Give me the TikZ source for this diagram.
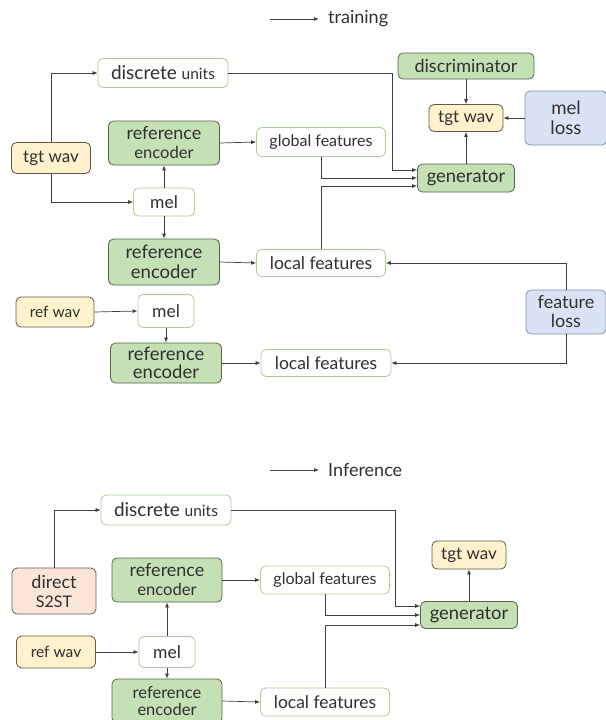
\documentclass[tikz,border=0pt]{standalone}
\usepackage{fontspec}
\setmainfont{Lato}
\usetikzlibrary{arrows.meta}
\definecolor{gfill}{HTML}{C5E0B4}
\definecolor{gline}{HTML}{55654F}
\definecolor{wline}{HTML}{A9D18E}
\definecolor{yfill}{HTML}{FFF2CC}
\definecolor{yline}{HTML}{5E5A4A}
\definecolor{bfill}{HTML}{DAE3F3}
\definecolor{bline}{HTML}{7F93B5}
\definecolor{pfill}{HTML}{FBE5D6}
\definecolor{pline}{HTML}{6A5E58}
\definecolor{lcol}{HTML}{404040}
\definecolor{tcol}{HTML}{303030}
\newcommand{\fs}[1]{\fontsize{#1}{#1}\selectfont}
\tikzset{
  base/.style={rounded corners=5pt, line width=0.8pt, align=center, inner sep=0pt, text=tcol, font=\fs{17.5}},
  gbox/.style={base, draw=gline, fill=gfill},
  wbox/.style={base, draw=wline, fill=white},
  ybox/.style={base, draw=yline, fill=yfill},
  bbox/.style={base, draw=bline, fill=bfill},
  pbox/.style={base, draw=pline, fill=pfill},
  arr/.style={draw=lcol, line width=0.7pt, -{Latex[length=5pt,width=4pt]}},
  legtext/.style={text=tcol, font=\fs{18}, anchor=west, inner sep=0pt}
}
\begin{document}
\begin{tikzpicture}[x=1pt,y=-1pt]
\useasboundingbox (0,0) rectangle (605,720);
% ---------------- training ----------------
\coordinate (lt0) at (270,19);
\node[legtext] (lt) at (328,19) {training};
\draw[arr] (lt0) -- ([xshift=-9pt]lt.west);

\node[wbox, minimum width=130pt, minimum height=29pt, font=\fs{19}] (du1) at (163,73) {discrete {\fs{15.5}units}};
\node[gbox, minimum width=136pt, minimum height=26pt, font=\fs{18}] (dis) at (466,66) {discriminator};
\node[ybox, minimum width=74pt, minimum height=27pt, font=\fs{17}] (tw1) at (466,118) {tgt wav};
\node[bbox, minimum width=82pt, minimum height=54pt, font=\fs{18.6}] (ml) at (566,118) {mel\\[1pt]loss};
\node[ybox, minimum width=79pt, minimum height=31pt, font=\fs{17}] (tgtL) at (51,158) {tgt wav};
\node[gbox, minimum width=111pt, minimum height=44pt, font=\fs{18}] (re1) at (164,143) {reference\\[1pt]{\fs{16.6}encoder}};
\node[wbox, minimum width=129pt, minimum height=29pt, font=\fs{16}] (gf1) at (321,142) {global features};
\node[gbox, minimum width=97pt, minimum height=28pt, font=\fs{18.4}] (gen1) at (466,178) {generator};
\node[wbox, minimum width=61pt, minimum height=28pt, font=\fs{17.5}] (mel1) at (164,202) {mel};
\node[gbox, minimum width=111pt, minimum height=46pt, font=\fs{18.5}] (re2) at (164,262) {reference\\[1pt]encoder};
\node[wbox, minimum width=129pt, minimum height=27pt, font=\fs{17.5}] (lf1) at (321,263) {local features};
\node[ybox, minimum width=78pt, minimum height=30pt, font=\fs{15.5}] (rw1) at (55,312) {ref wav};
\node[wbox, minimum width=56pt, minimum height=33pt, font=\fs{17.5}] (mel2) at (166,311) {mel};
\node[gbox, minimum width=111pt, minimum height=40pt, font=\fs{18.5}] (re3) at (166,363) {reference\\[0pt]encoder};
\node[wbox, minimum width=130pt, minimum height=27pt, font=\fs{17.5}] (lf2) at (326,363) {local features};
\node[bbox, minimum width=80pt, minimum height=44pt, font=\fs{18}] (fl) at (566,312) {feature\\[1pt]loss};

\draw[arr] (tgtL.north) |- (du1.west);
\draw[arr] (tgtL.south) |- (mel1.west);
\draw[arr] (mel1.north) -- (re1.south);
\draw[arr] (mel1.south) -- (re2.north);
\draw[arr] (re1.east) -- (gf1.west);
\draw[arr] (re2.east) -- (lf1.west);
\draw[arr] (du1.east) -| ([xshift=-25pt,yshift=8pt]gen1.west) -- ([yshift=8pt]gen1.west);
\draw[arr] (gf1.south) |- (gen1.west);
\draw[arr] (lf1.north) |- ([yshift=-8pt]gen1.west);
\draw[arr] (gen1.north) -- (tw1.south);
\draw[arr] (dis.south) -- (tw1.north);
\draw[arr] (ml.west) -- (tw1.east);
\draw[arr] (fl.north) |- (lf1.east);
\draw[arr] (fl.south) |- (lf2.east);
\draw[arr] (rw1.east) -- (mel2.west);
\draw[arr] (mel2.south) -- (re3.north);
\draw[arr] (re3.east) -- (lf2.west);

% ---------------- inference ----------------
\coordinate (li0) at (270,470);
\node[legtext] (li) at (328,470) {Inference};
\draw[arr] (li0) -- ([xshift=-9pt]li.west);

\node[wbox, minimum width=130pt, minimum height=30pt, font=\fs{19}] (du2) at (166,510) {discrete {\fs{15.5}units}};
\node[pbox, minimum width=84pt, minimum height=46pt, font=\fs{18}] (s2st) at (54,591) {direct\\[1pt]{\fs{16}S2ST}};
\node[gbox, minimum width=110pt, minimum height=44pt, font=\fs{18}] (re4) at (167,580) {reference\\[1pt]{\fs{16.6}encoder}};
\node[wbox, minimum width=129pt, minimum height=28pt, font=\fs{16}] (gf2) at (325,580) {global features};
\node[ybox, minimum width=74pt, minimum height=28pt, font=\fs{17}] (tw2) at (469,555) {tgt wav};
\node[gbox, minimum width=97pt, minimum height=27pt, font=\fs{18.4}] (gen2) at (469,615) {generator};
\node[ybox, minimum width=79pt, minimum height=32pt, font=\fs{15.5}] (rw2) at (56,652) {ref wav};
\node[wbox, minimum width=56pt, minimum height=31pt, font=\fs{17.5}] (mel3) at (167,652) {mel};
\node[gbox, minimum width=110pt, minimum height=44pt, font=\fs{16.5}] (re5) at (167,701) {reference\\[0pt]encoder};
\node[wbox, minimum width=129pt, minimum height=28pt, font=\fs{17.5}] (lf3) at (325,702) {local features};

\draw[arr] (s2st.north) |- (du2.west);
\draw[arr] (du2.east) -| ([xshift=-25pt,yshift=9pt]gen2.west) -- ([yshift=9pt]gen2.west);
\draw[arr] (gf2.south) |- (gen2.west);
\draw[arr] (lf3.north) |- ([yshift=-10pt]gen2.west);
\draw[arr] (gen2.north) -- (tw2.south);
\draw[arr] (rw2.east) -- (mel3.west);
\draw[arr] (mel3.north) -- (re4.south);
\draw[arr] (mel3.south) -- (re5.north);
\draw[arr] (re4.east) -- (gf2.west);
\draw[arr] (re5.east) -- (lf3.west);
\end{tikzpicture}
\end{document}
